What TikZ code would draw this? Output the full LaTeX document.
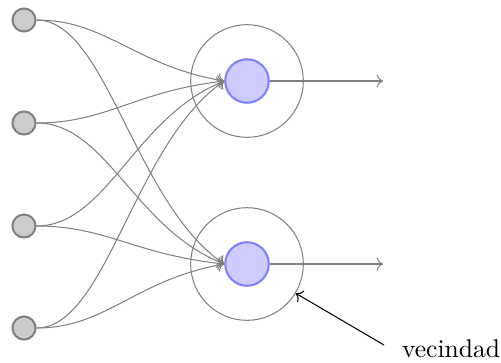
\documentclass[tikz,border=0pt]{standalone}
\usetikzlibrary{calc,arrows.meta}
\begin{document}
\begin{tikzpicture}[x=0.390625pt,y=-0.390625pt,
  inp/.style={circle,draw=gray,fill=gray!40,thick,minimum size=9pt,inner sep=0pt},
  neur/.style={circle,draw=blue!50,fill=blue!20,thick,minimum size=17pt,inner sep=0pt},
  hood/.style={circle,draw=gray,minimum size=44pt,inner sep=0pt},
  conn/.style={draw=gray,->}]
\useasboundingbox (0,0) rectangle (501,362);
\node[inp] (I1) at (24,20) {};
\node[inp] (I2) at (24,123) {};
\node[inp] (I3) at (24,226) {};
\node[inp] (I4) at (24,328) {};
\node[hood] (H1) at (247,81) {};
\node[hood] (H2) at (247,264) {};
\node[neur] (N1) at (247,81) {};
\node[neur] (N2) at (247,264) {};
\coordinate (O1) at (383,81);
\coordinate (O2) at (383,264);
\foreach \i in {1,...,4}{
  \foreach \j in {1,2}{
    \path[conn] (I\i.east) .. controls ($(I\i.east)+(70,0)$) and ($(N\j.west)!0.25!(I\i.east)+(-43,0)$) .. (N\j.west);
  }
}
\path[conn] (N1.east) -- (O1);
\path[conn] (N2.east) -- (O2);
\node[anchor=west] (lbl) at (393,349) {vecindad};
\coordinate (A) at (384,345);
\draw[->] (A) -- (H2.-31);
\end{tikzpicture}
\end{document}
